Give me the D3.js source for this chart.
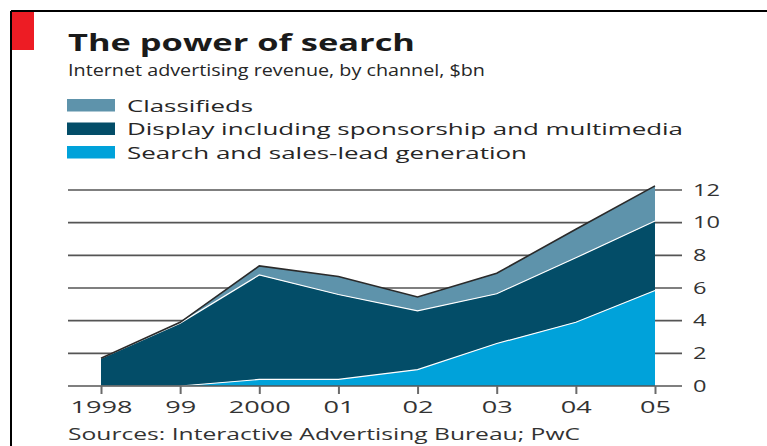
<!DOCTYPE html>
<html><head><meta charset="utf-8">
<script src="https://cdn.jsdelivr.net/npm/d3@7"></script>
<style>body{margin:0;background:#fff}svg{display:block}text{font-family:"Open Sans",sans-serif}</style>
</head><body>
<script>
const years = [1998, 1999, 2000, 2001, 2002, 2003, 2004, 2005];
const yearLabels = ["1998", "99", "2000", "01", "02", "03", "04", "05"];
const search = [0, 0, 0.4, 0.4, 1.0, 2.6, 3.9, 5.85];
const display = [1.7, 3.85, 6.4, 5.2, 3.6, 3.05, 3.95, 4.25];
const classifieds = [0, 0.05, 0.55, 1.1, 0.85, 1.25, 1.75, 2.15];
const yTicks = [0, 2, 4, 6, 8, 10, 12];
const seriesNames = ["Classifieds", "Display including sponsorship and multimedia", "Search and sales-lead generation"];
const colors = {classifieds: "#5e93ab", display: "#034d68", search: "#00a2da"};

const W = 767, H = 446;
const svg = d3.select("body").append("svg").attr("width", W).attr("height", H);

function stretch(sel, target) {
  return sel.attr("textLength", target).attr("lengthAdjust", "spacingAndGlyphs");
}

// frame
svg.append("line").attr("x1", 11).attr("x2", W).attr("y1", 11).attr("y2", 11).attr("stroke", "#000").attr("stroke-width", 2);
svg.append("line").attr("x1", 11).attr("x2", 11).attr("y1", 11).attr("y2", H).attr("stroke", "#000").attr("stroke-width", 2);
svg.append("rect").attr("x", 12).attr("y", 12).attr("width", 22).attr("height", 38).attr("fill", "#ed1c24");

// titles
stretch(svg.append("text").attr("x", 68).attr("y", 51).attr("font-size", 24).attr("font-weight", 700).attr("fill", "#1a1a1a").text("The power of search"), 347);
stretch(svg.append("text").attr("x", 68).attr("y", 76).attr("font-size", 16.5).attr("fill", "#262626").text("Internet advertising revenue, by channel, $bn"), 417);

// legend
const legColors = [colors.classifieds, colors.display, colors.search];
const legW = [126, 556, 400];
seriesNames.forEach((n, i) => {
  const y0 = 99 + i * 23.5;
  svg.append("rect").attr("x", 67).attr("y", y0).attr("width", 48).attr("height", 12.5).attr("fill", legColors[i]);
  stretch(svg.append("text").attr("x", 127).attr("y", y0 + 12.5).attr("font-size", 16.5).attr("fill", "#262626").text(n), legW[i]);
});

// scales
const x = d3.scaleLinear().domain([1998, 2005]).range([101, 655]);
const y = d3.scaleLinear().domain([0, 12]).range([386, 190]);

// gridlines
const grid = svg.append("g");
yTicks.filter(t => t > 0).forEach(t => {
  grid.append("line").attr("x1", 68).attr("x2", 682).attr("y1", y(t)).attr("y2", y(t)).attr("stroke", "#555").attr("stroke-width", 1.6);
});

// stacked areas
const data = years.map((yr, i) => ({year: yr, search: search[i], display: display[i], classifieds: classifieds[i]}));
const stack = d3.stack().keys(["search", "display", "classifieds"]);
const layers = stack(data);
const area = d3.area().x(d => x(d.data.year)).y0(d => y(d[0])).y1(d => y(d[1]));
svg.append("g").selectAll("path").data(layers).join("path")
  .attr("d", area).attr("fill", d => colors[d.key]);

// separators
const line = d3.line().x(d => x(d.data.year)).y(d => y(d[1]));
svg.append("path").attr("d", line(layers[0])).attr("fill", "none").attr("stroke", "#fff").attr("stroke-width", 1.2);
svg.append("path").attr("d", line(layers[1])).attr("fill", "none").attr("stroke", "#fff").attr("stroke-width", 1.2);
svg.append("path").attr("d", line(layers[2])).attr("fill", "none").attr("stroke", "#2a2a2a").attr("stroke-width", 1.6);

// zero line + y labels
svg.append("line").attr("x1", 68).attr("x2", 682).attr("y1", y(0)).attr("y2", y(0)).attr("stroke", "#555").attr("stroke-width", 1.6);
const yAxis = d3.axisRight(y).tickValues(yTicks).tickSize(0).tickPadding(0).tickFormat(d3.format("d"));
const ya = svg.append("g").attr("transform", "translate(693,0)").call(yAxis);
ya.select(".domain").remove();
ya.selectAll("text").attr("font-size", 16).attr("fill", "#333").attr("font-family", "Open Sans, sans-serif")
  .each(function(d) { stretch(d3.select(this), String(d).length * 13.5); });

// x axis
const xAxis = d3.axisBottom(x).tickValues(years).tickSize(8).tickPadding(8).tickFormat((d, i) => yearLabels[i]);
const xa = svg.append("g").attr("transform", `translate(0,${y(0)})`).call(xAxis);
xa.select(".domain").remove();
xa.selectAll(".tick line").attr("stroke", "#6a6a6a").attr("stroke-width", 2);
xa.selectAll("text").attr("font-size", 16).attr("fill", "#333").attr("font-family", "Open Sans, sans-serif")
  .each(function(d, i) { stretch(d3.select(this), yearLabels[i].length * 15.5); });

// source
stretch(svg.append("text").attr("x", 68).attr("y", 440).attr("font-size", 15.5).attr("fill", "#333").text("Sources: Interactive Advertising Bureau; PwC"), 512);
</script>
</body></html>
